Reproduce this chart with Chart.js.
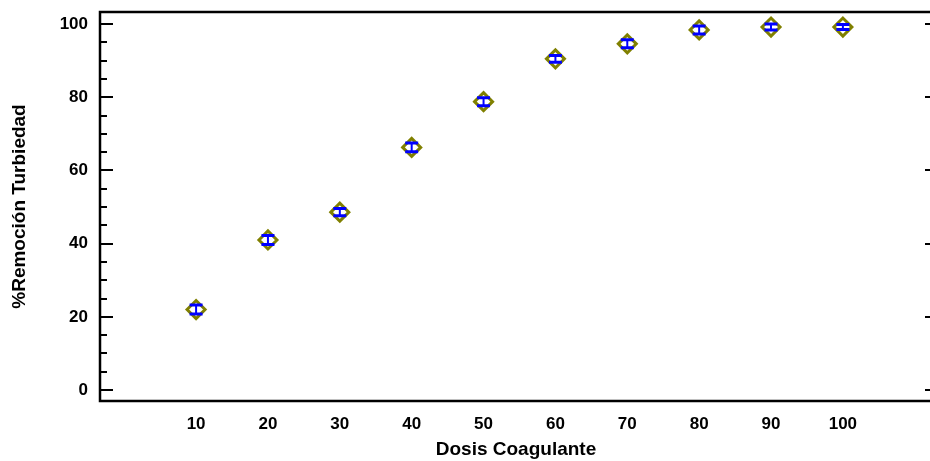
<!DOCTYPE html>
<html>
<head>
<meta charset="utf-8">
<script src="https://cdn.jsdelivr.net/npm/chart.js@4.4.0/dist/chart.umd.min.js"></script>
<style>
  html, body { margin: 0; padding: 0; background: #fff; overflow: hidden; }
  #wrap { position: absolute; left: 0; top: 0; width: 944px; height: 461px; }
</style>
</head>
<body>
<div id="wrap"><canvas id="chart" width="944" height="461"></canvas></div>
<script>
// data
const dosis = [10, 20, 30, 40, 50, 60, 70, 80, 90, 100];
const remocion = [22.0, 41.0, 48.6, 66.3, 78.8, 90.5, 94.6, 98.4, 99.2, 99.2];
const errorBar = [1.2, 1.2, 1.0, 1.2, 1.1, 0.9, 1.1, 1.1, 0.8, 0.7];
const xTicks = [10, 20, 30, 40, 50, 60, 70, 80, 90, 100];
const yTicks = [0, 20, 40, 60, 80, 100];
const yMinorTicks = [5, 10, 15, 25, 30, 35, 45, 50, 55, 65, 70, 75, 85, 90, 95];

const fontFam = "'Liberation Sans', Arial, sans-serif";

// frame with inward ticks
const framePlugin = {
    id: 'frame',
    afterDraw(chart) {
        const ctx = chart.ctx;
        const a = chart.chartArea;
        const ys = chart.scales.y;
        ctx.save();
        ctx.strokeStyle = '#000';
        ctx.lineWidth = 2.5;
        ctx.beginPath();
        ctx.moveTo(a.right, a.top);
        ctx.lineTo(a.left, a.top);
        ctx.lineTo(a.left, a.bottom);
        ctx.lineTo(a.right, a.bottom);
        ctx.lineTo(a.right, a.top);
        ctx.stroke();
        ctx.lineWidth = 2;
        ctx.beginPath();
        yTicks.forEach(v => {
            let py = Math.round(ys.getPixelForValue(v));
            ctx.moveTo(a.left, py);
            ctx.lineTo(a.left + 13, py);
            ctx.moveTo(a.right, py);
            ctx.lineTo(a.right - 7, py);
        });
        yMinorTicks.forEach(v => {
            let py = Math.round(ys.getPixelForValue(v));
            ctx.moveTo(a.left, py);
            ctx.lineTo(a.left + 7, py);
        });
        ctx.stroke();
        ctx.restore();
    }
};

// blue I-shaped error bars on top of the diamonds
const errorPlugin = {
    id: 'errbars',
    afterDatasetsDraw(chart) {
        const ctx = chart.ctx;
        const xs = chart.scales.x;
        const ys = chart.scales.y;
        ctx.save();
        ctx.strokeStyle = '#0000ff';
        dosis.forEach((d, i) => {
            let px = xs.getPixelForValue(d);
            let top = ys.getPixelForValue(remocion[i] + errorBar[i]);
            let bot = ys.getPixelForValue(remocion[i] - errorBar[i]);
            ctx.lineWidth = 2;
            ctx.beginPath();
            ctx.moveTo(px, top);
            ctx.lineTo(px, bot);
            ctx.stroke();
            ctx.lineWidth = 3;
            ctx.beginPath();
            ctx.moveTo(px - 6.5, top);
            ctx.lineTo(px + 6.5, top);
            ctx.moveTo(px - 6.5, bot);
            ctx.lineTo(px + 6.5, bot);
            ctx.stroke();
        });
        ctx.restore();
    }
};

const ctx = document.getElementById('chart');
const chart = new Chart(ctx, {
    type: 'scatter',
    data: {
        datasets: [
            {
                label: '%Remoción Turbiedad',
                data: dosis.map((d, i) => ({ x: d, y: remocion[i] })),
                pointStyle: 'rectRot',
                pointRadius: 9,
                pointBorderWidth: 3,
                pointBorderColor: '#808000',
                pointBackgroundColor: 'rgba(255,255,255,0)',
                showLine: false,
            },
        ],
    },
    options: {
        responsive: false,
        animation: false,
        layout: { padding: { top: 10, right: 1, left: 0, bottom: 0 } },
        scales: {
            x: {
                type: 'linear',
                min: -3.37,
                max: 112.4,
                afterBuildTicks: (s) => { s.ticks = xTicks.map(v => ({ value: v })); },
                afterFit: (s) => {
                    s.height = 60;
                    s.paddingLeft = 0;
                    s.paddingRight = 0;
                },
                grid: { display: false, drawTicks: false },
                border: { display: false },
                ticks: {
                    padding: 13,
                    color: '#000',
                    font: { family: fontFam, size: 17, weight: 'bold' },
                },
                title: {
                    display: true,
                    text: 'Dosis Coagulante',
                    color: '#000',
                    padding: { top: 0, bottom: 0 },
                    font: { family: fontFam, size: 19, weight: 'bold' },
                },
            },
            y: {
                type: 'linear',
                min: -3,
                max: 103.3,
                afterBuildTicks: (s) => { s.ticks = yTicks.map(v => ({ value: v })); },
                afterFit: (s) => {
                    s.width = 100;
                    s.paddingTop = 0;
                    s.paddingBottom = 0;
                },
                grid: { display: false, drawTicks: false },
                border: { display: false },
                ticks: {
                    padding: 12,
                    color: '#000',
                    font: { family: fontFam, size: 17, weight: 'bold' },
                },
                title: {
                    display: true,
                    text: '%Remoción Turbiedad',
                    color: '#000',
                    padding: { top: 8, bottom: 0 },
                    font: { family: fontFam, size: 19, weight: 'bold' },
                },
            },
        },
        plugins: {
            legend: { display: false },
            tooltip: { enabled: false },
        },
    },
    plugins: [framePlugin, errorPlugin],
});
</script>
</body>
</html>
